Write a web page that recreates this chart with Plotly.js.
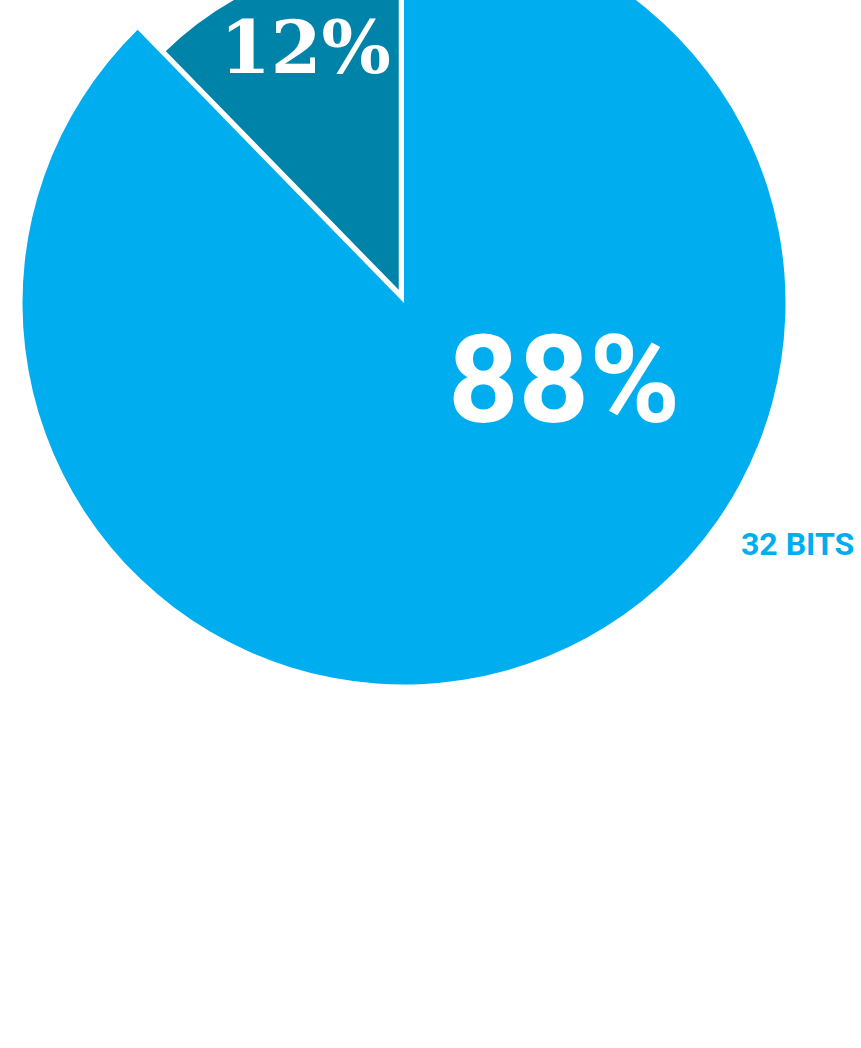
<!DOCTYPE html>
<html>
<head>
<meta charset="utf-8">
<script src="https://cdn.plot.ly/plotly-3.0.1.min.js"></script>
<style>
html,body{margin:0;padding:0;background:#fff;overflow:hidden;}
#chart{position:absolute;left:0;top:-79px;width:861px;height:1127px;}
</style>
</head>
<body>
<div id="chart"></div>
<script>
// Data
var labels = ['32 BITS', '64 BITS'];
var values = [87.7, 12.3];
var colors = ['#00aeef', '#0083a9'];

var total = values.reduce(function(a, b) { return a + b; }, 0);
var pct = values.map(function(v) { return Math.round(v / total * 100) + '%'; });

var traceMain = {
  type: 'pie',
  labels: labels,
  values: values,
  sort: false,
  direction: 'clockwise',
  rotation: 0,
  marker: {colors: [colors[0], 'rgba(0,0,0,0)'], line: {width: 0}},
  textinfo: 'none',
  hoverinfo: 'none',
  showlegend: false,
  domain: {x: [0.02613, 0.91231], y: [0.32254, 0.99956]}
};

var traceSmall = {
  type: 'pie',
  labels: labels,
  values: values,
  sort: false,
  direction: 'clockwise',
  rotation: 0,
  marker: {colors: ['rgba(0,0,0,0)', colors[1]], line: {color: ['rgba(0,0,0,0)', '#ffffff'], width: 2.5}},
  textinfo: 'none',
  hoverinfo: 'none',
  showlegend: false,
  domain: {x: [0.07201, 0.85714], y: [0.37001, 0.96984]}
};

var layout = {
  width: 861,
  height: 1127,
  margin: {l: 0, r: 0, t: 0, b: 0},
  paper_bgcolor: '#ffffff',
  showlegend: false,
  annotations: [
    {text: pct[0], x: 0.6551, y: 0.5927, xref: 'paper', yref: 'paper', xanchor: 'center', yanchor: 'middle', showarrow: false,
     font: {family: 'Roboto', size: 123, color: '#ffffff', weight: 'bold'}},
    {text: pct[1], x: 0.3554, y: 0.8878, xref: 'paper', yref: 'paper', xanchor: 'center', yanchor: 'middle', showarrow: false,
     font: {family: 'DejaVu Serif', size: 73, color: '#ffffff', weight: 'bold'}},
    {text: labels[0], x: 0.9257, y: 0.4472, xref: 'paper', yref: 'paper', xanchor: 'center', yanchor: 'middle', showarrow: false,
     font: {family: 'Roboto', size: 32, color: colors[0], weight: 'bold'}}
  ]
};

Plotly.newPlot('chart', [traceMain, traceSmall], layout, {staticPlot: true, displayModeBar: false});
</script>
</body>
</html>
